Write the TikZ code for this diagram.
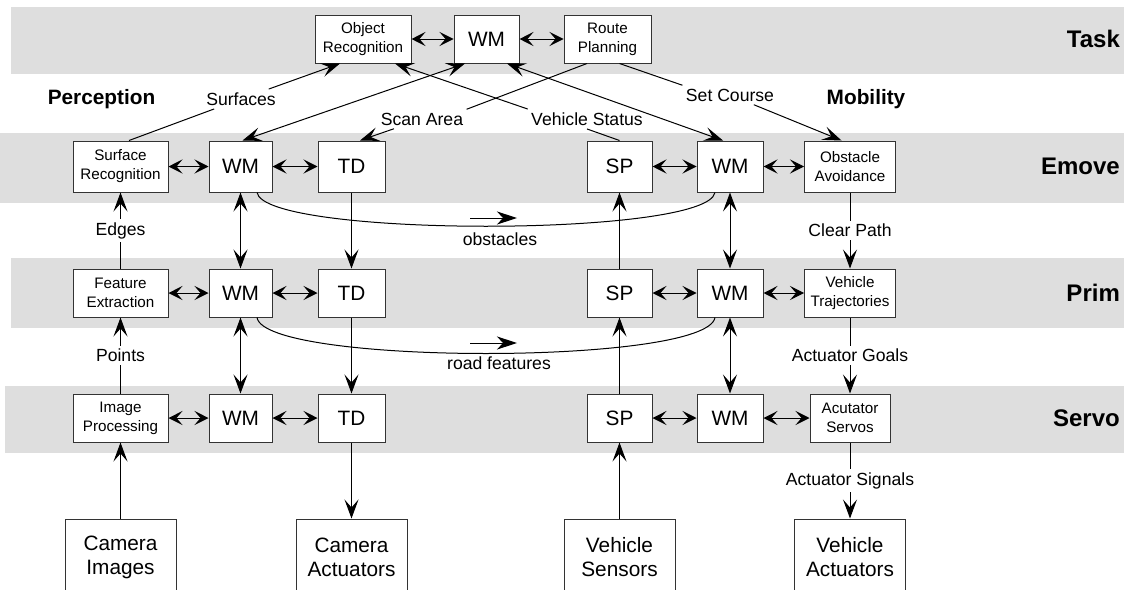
\documentclass[tikz,border=0pt]{standalone}
\usepackage{fontspec}
\setmainfont{Liberation Sans}
\usepackage{xcolor}
\usepackage{tikz}
\usetikzlibrary{positioning, calc, arrows.meta}

\definecolor{BandGrey}{gray}{0.87}
\definecolor{BoxLine}{gray}{0.2}

\begin{document}
\begin{tikzpicture}[x=0.5pt, y=-0.5pt, line width=0.5pt,
					>={Stealth[length=9.5pt, width=7pt, inset=4pt]},
					SideLink/.style={{Stealth[length=7pt, width=7pt, inset=3pt]}-{Stealth[length=7pt, width=7pt, inset=3pt]}},
					LevelBox/.style={draw=BoxLine, fill=white, minimum height=24pt, inner sep=1pt, align=center, font=\fontsize{7.6}{9.5}\selectfont},
					ModuleBox/.style={LevelBox, font=\fontsize{10.4}{12}\selectfont},
					IOBox/.style={draw=BoxLine, fill=white, minimum width=55.5pt, minimum height=38pt, align=center, font=\fontsize{10.4}{12}\selectfont},
					FlowLabel/.style={fill=white, inner sep=1.5pt, font=\fontsize{8.8}{10}\selectfont},
					SideLabel/.style={font=\bfseries\fontsize{10.4}{12}\selectfont},
					LevelLabel/.style={anchor=east, font=\bfseries\fontsize{12}{14}\selectfont}]

				\useasboundingbox (0,0) rectangle (1124,589);
				\clip (0,0) rectangle (1124,589);

				% level bands
				\fill[BandGrey] (11,7) rectangle (1124,74);
				\fill[BandGrey] (0,133) rectangle (1124,203);
				\fill[BandGrey] (11,258) rectangle (1124,328);
				\fill[BandGrey] (5,386) rectangle (1124,453);

				\node[LevelLabel] (TaskLbl) at (1127,39) {Task};
				\node[LevelLabel] (EmoveLbl) at (1127,166.5) {Emove};
				\node[LevelLabel] (PrimLbl) at (1127,293) {Prim};
				\node[LevelLabel] (ServoLbl) at (1127,418) {Servo};
				\node[SideLabel] (Perception) at (101.5,99) {Perception};
				\node[SideLabel] (Mobility) at (866,99) {Mobility};

				% task level
				\node[LevelBox, minimum width=48pt] (ObjRec) at (363,39) {Object\\Recognition};
				\node[ModuleBox, minimum width=32.5pt] (TaskWM) at (486.5,39) {WM};
				\node[LevelBox, minimum width=43.5pt] (RoutePlan) at (607.5,39) {Route\\Planning};

				% emove level
				\node[LevelBox, minimum width=47.5pt, minimum height=25.5pt] (SurfRec) at (120.5,166.5) {Surface\\Recognition};
				\node[ModuleBox, minimum width=31.5pt, minimum height=25.5pt] (EmoveWMa) at (240.5,166.5) {WM};
				\node[ModuleBox, minimum width=33.5pt, minimum height=25.5pt] (EmoveTD) at (351.5,166.5) {TD};
				\node[ModuleBox, minimum width=32.5pt, minimum height=25.5pt] (EmoveSP) at (619.5,166.5) {SP};
				\node[ModuleBox, minimum width=33pt, minimum height=25.5pt] (EmoveWMb) at (730,166.5) {WM};
				\node[LevelBox, minimum width=45.5pt, minimum height=25.5pt] (ObstAvoid) at (850,166.5) {Obstacle\\Avoidance};

				% prim level
				\node[LevelBox, minimum width=47.5pt] (FeatExt) at (120.5,293) {Feature\\Extraction};
				\node[ModuleBox, minimum width=31.5pt] (PrimWMa) at (240.5,293) {WM};
				\node[ModuleBox, minimum width=33.5pt] (PrimTD) at (351.5,293) {TD};
				\node[ModuleBox, minimum width=32.5pt] (PrimSP) at (619.5,293) {SP};
				\node[ModuleBox, minimum width=33pt] (PrimWMb) at (730,293) {WM};
				\node[LevelBox, minimum width=45.5pt] (VehTraj) at (850,293) {Vehicle\\Trajectories};

				% servo level
				\node[LevelBox, minimum width=47.5pt] (ImgProc) at (120.5,418) {Image\\Processing};
				\node[ModuleBox, minimum width=31.5pt] (ServoWMa) at (240.5,418) {WM};
				\node[ModuleBox, minimum width=33.5pt] (ServoTD) at (351.5,418) {TD};
				\node[ModuleBox, minimum width=32.5pt] (ServoSP) at (619.5,418) {SP};
				\node[ModuleBox, minimum width=33pt] (ServoWMb) at (730,418) {WM};
				\node[LevelBox, minimum width=40pt] (ActServo) at (850,418) {Acutator\\Servos};

				% sensors and actuators
				\node[IOBox] (CamImg) at (120.5,557) {Camera\\Images};
				\node[IOBox] (CamAct) at (351.5,557) {Camera\\Actuators};
				\node[IOBox] (VehSens) at (619.5,557) {Vehicle\\Sensors};
				\node[IOBox] (VehAct) at (850,557) {Vehicle\\Actuators};

				% same-level links
				\draw[SideLink] (ObjRec) -- (TaskWM);
				\draw[SideLink] (TaskWM) -- (RoutePlan);
				\draw[SideLink] (SurfRec) -- (EmoveWMa);
				\draw[SideLink] (EmoveWMa) -- (EmoveTD);
				\draw[SideLink] (EmoveSP) -- (EmoveWMb);
				\draw[SideLink] (EmoveWMb) -- (ObstAvoid);
				\draw[SideLink] (FeatExt) -- (PrimWMa);
				\draw[SideLink] (PrimWMa) -- (PrimTD);
				\draw[SideLink] (PrimSP) -- (PrimWMb);
				\draw[SideLink] (PrimWMb) -- (VehTraj);
				\draw[SideLink] (ImgProc) -- (ServoWMa);
				\draw[SideLink] (ServoWMa) -- (ServoTD);
				\draw[SideLink] (ServoSP) -- (ServoWMb);
				\draw[SideLink] (ServoWMb) -- (ActServo);

				% task to emove
				\node[FlowLabel, fill=none] (Surfaces) at (241,99) {Surfaces};
				\node[FlowLabel, fill=none] (ScanArea) at (422,119) {Scan Area};
				\node[FlowLabel, fill=none] (VehStatus) at (587,119) {Vehicle Status};
				\node[FlowLabel, fill=none] (SetCourse) at (730,95) {Set Course};

				\draw ($(SurfRec.north) + (8.5,0)$) -- (Surfaces);
				\draw[->] (Surfaces) -- ($(ObjRec.south) + (-23,0)$);
				\draw[<->] ($(TaskWM.south) + (-21.5,0)$) -- ($(EmoveWMa.north) + (2,0)$);
				\draw ($(RoutePlan.south) + (-20.5,0)$) -- (ScanArea.north east);
				\draw[->] (ScanArea) -- ($(EmoveTD.north) + (8.5,0)$);
				\draw (EmoveSP.north) -- (VehStatus.south);
				\draw[->] (VehStatus.north west) -- ($(ObjRec.south) + (32,0)$);
				\draw[<->] ($(TaskWM.south) + (20.5,0)$) -- ($(EmoveWMb.north) + (-7,0)$);
				\draw ($(RoutePlan.south) + (12,0)$) -- (SetCourse.north west);
				\draw[->] (SetCourse) -- ($(ObstAvoid.north) + (-8.5,0)$);

				% perception column
				\draw[->] (FeatExt) -- node[FlowLabel] {Edges} (SurfRec);
				\draw[->] (ImgProc) -- node[FlowLabel] {Points} (FeatExt);
				\draw[->] (CamImg) -- (ImgProc);

				\draw[<->] (EmoveWMa) -- (PrimWMa);
				\draw[<->] (PrimWMa) -- (ServoWMa);
				\draw[->] (EmoveTD) -- (PrimTD);
				\draw[->] (PrimTD) -- (ServoTD);
				\draw[->] (ServoTD) -- (CamAct);

				% mobility column
				\draw[->] (VehSens) -- (ServoSP);
				\draw[->] (ServoSP) -- (PrimSP);
				\draw[->] (PrimSP) -- (EmoveSP);
				\draw[<->] (EmoveWMb) -- (PrimWMb);
				\draw[<->] (PrimWMb) -- (ServoWMb);
				\draw[->] (ObstAvoid) -- node[FlowLabel] {Clear Path} (VehTraj);
				\draw[->] (VehTraj) -- node[FlowLabel] {Actuator Goals} (ActServo);
				\draw[->] (ActServo) -- node[FlowLabel] {Actuator Signals} (VehAct);

				% world model sharing
				\draw ($(EmoveWMa.south) + (16.5,0)$) .. controls ($(EmoveWMa.south) + (24,45)$) and ($(EmoveWMb.south) + (-23,45)$) .. ($(EmoveWMb.south) + (-15,0)$);
				\coordinate (ObstTail) at (470,218);
				\coordinate (ObstHead) at (517,218);
				\draw[-{Stealth[length=10pt, width=6.5pt, inset=3pt]}] (ObstTail) -- (ObstHead);
				\node[FlowLabel, fill=none] (Obstacles) at (500,239) {obstacles};

				\draw ($(PrimWMa.south) + (16.5,0)$) .. controls ($(PrimWMa.south) + (24,48)$) and ($(PrimWMb.south) + (-23,48)$) .. ($(PrimWMb.south) + (-15,0)$);
				\coordinate (RoadTail) at (470,343);
				\coordinate (RoadHead) at (517,343);
				\draw[-{Stealth[length=10pt, width=6.5pt, inset=3pt]}] (RoadTail) -- (RoadHead);
				\node[FlowLabel, fill=none] (RoadFeat) at (499,363) {road features};
			\end{tikzpicture}
\end{document}
